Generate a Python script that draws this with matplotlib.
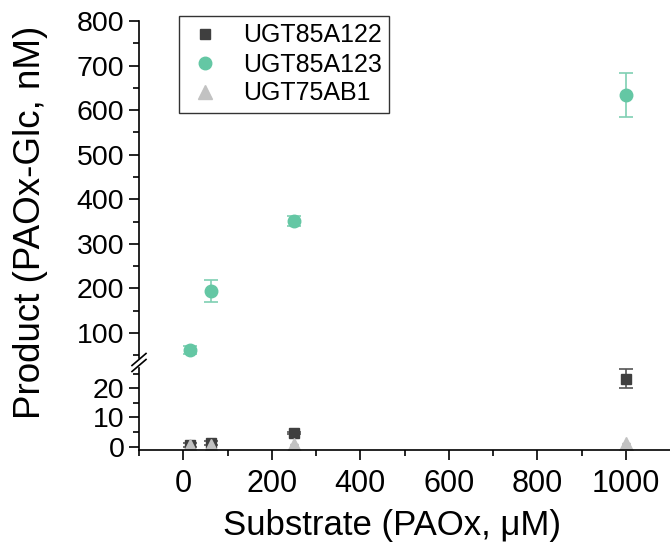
import numpy as np
import matplotlib
matplotlib.use('Agg')
from matplotlib import pyplot as plt
from matplotlib.lines import Line2D

plt.rcParams['font.family'] = ['Liberation Sans', 'DejaVu Sans']

substrate = [15.625, 62.5, 250, 1000]

ugt122 = [0.5, 1.3, 4.7, 23.3]
ugt122_err = [0.6, 0.6, 0.4, 3.2]

ugt123 = [62, 194, 351, 634]
ugt123_err = [9, 24, 11, 49]

ugt75 = [0.2, 0.3, 0.6, 1.0]
ugt75_err = [0.2, 0.2, 0.2, 0.2]

names = ['UGT85A122', 'UGT85A123', 'UGT75AB1']

green = '#64c7a4'
dark = '#3f3f3f'
light = '#c2c2c2'


def draw(ax):
    ax.errorbar(substrate, ugt122, yerr=ugt122_err, fmt='s', color=dark, ms=7.5,
                ecolor='#555555', elinewidth=1.2, capsize=5, capthick=1.2)
    ax.errorbar(substrate, ugt123, yerr=ugt123_err, fmt='o', color=green, ms=9,
                ecolor='#7fd0b3', elinewidth=1.2, capsize=5, capthick=1.2)
    ax.errorbar(substrate, ugt75, yerr=ugt75_err, fmt='^', color=light, ms=10,
                ecolor='#999999', elinewidth=1.0, capsize=3, capthick=1.0)


fig = plt.figure(figsize=(6.7, 5.52), dpi=100)
left = 139 / 670
width = 1 - left
ax_top = fig.add_axes([left, 1 - 358 / 552, width, (358 - 21) / 552])
ax_bot = fig.add_axes([left, 1 - 449.5 / 552, width, (449.5 - 368) / 552])

draw(ax_top)
draw(ax_bot)

for ax in (ax_top, ax_bot):
    ax.set_xlim(-100, 1100)
    ax.spines['top'].set_visible(False)
    ax.spines['right'].set_visible(False)
    ax.spines['left'].set_linewidth(1.2)
    ax.spines['bottom'].set_linewidth(1.2)
    ax.tick_params(which='major', direction='out', length=7, width=1.2, labelsize=20.5)
    ax.tick_params(which='minor', direction='out', length=4, width=1.2)
    ax.patch.set_visible(False)

ax_top.set_ylim(44, 800)
ax_top.set_yticks([100, 200, 300, 400, 500, 600, 700, 800])
ax_top.set_yticks(np.arange(50, 800, 100), minor=True)
ax_top.spines['bottom'].set_visible(False)
ax_top.tick_params(axis='x', which='both', bottom=False, labelbottom=False)

ax_bot.set_ylim(-1, 27)
ax_bot.set_yticks([0, 10, 20])
ax_bot.set_yticks([5, 15, 25], minor=True)
ax_bot.set_xticks([0, 200, 400, 600, 800, 1000])
ax_bot.set_xticks([-100, 100, 300, 500, 700, 900], minor=True)
ax_bot.tick_params(axis='x', which='major', labelsize=22, pad=7)

# break marks on the left spine
for y0 in (356.5, 362.5):
    fig.add_artist(Line2D([132 / 670, 146 / 670],
                          [1 - (y0 + 9) / 552, 1 - (y0 - 3) / 552],
                          color='black', lw=1.2))

handles = [
    Line2D([], [], ls='none', marker='s', color=dark, ms=7.5),
    Line2D([], [], ls='none', marker='o', color=green, ms=9),
    Line2D([], [], ls='none', marker='^', color=light, ms=10),
]
leg = ax_top.legend(handles, names, loc='upper left',
                    bbox_to_anchor=(179 / 670, 1 - 16 / 552),
                    bbox_transform=fig.transFigure, fontsize=18, frameon=True,
                    fancybox=False, edgecolor='black', handletextpad=0.75,
                    labelspacing=0.2, borderpad=0.3, handlelength=1.5,
                    borderaxespad=0)
leg.get_frame().set_linewidth(1.0)

fig.text(31 / 670, 1 - 222 / 552, 'Product (PAOx-Glc, nM)', rotation=90,
         ha='center', va='center', fontsize=26.5)
fig.text(392 / 670, 1 - 525 / 552, 'Substrate (PAOx, μM)', ha='center',
         va='center', fontsize=25)

fig.savefig('out.png', dpi=100)
